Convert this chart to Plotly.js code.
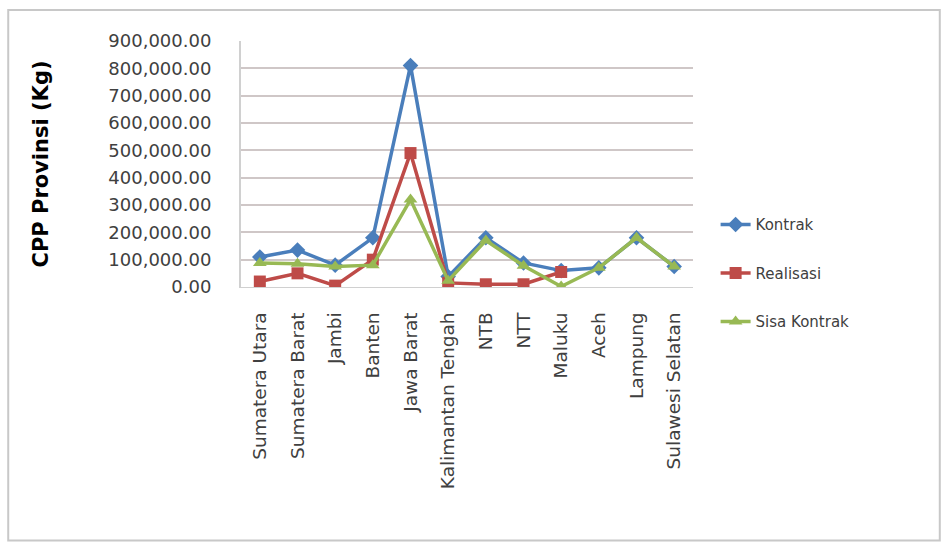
<!DOCTYPE html>
<html>
<head>
<meta charset="utf-8">
<script src="https://cdn.plot.ly/plotly-3.0.1.min.js"></script>
<style>
html,body{margin:0;padding:0;background:#fff;}
#chart{width:947px;height:545px;}
</style>
</head>
<body>
<div id="chart"></div>
<script>
var provinces = ["Sumatera Utara","Sumatera Barat","Jambi","Banten","Jawa Barat","Kalimantan Tengah","NTB","NTT","Maluku","Aceh","Lampung","Sulawesi Selatan"];
var kontrak   = [110000, 135000, 80000, 180000, 810000, 38000, 180000, 88000, 60000, 70000, 180000, 75000];
var realisasi = [20000, 50000, 5000, 100000, 490000, 15000, 10000, 10000, 55000, null, null, null];
var sisaKontrak = [88000, 85000, 75000, 80000, 320000, 23000, 170000, 78000, 2000, 70000, 180000, 75000];
var yTicks = [0,100000,200000,300000,400000,500000,600000,700000,800000,900000];

var font = "DejaVu Sans, Arial, sans-serif";
var traces = [
  {name:"Kontrak", x:provinces, y:kontrak, type:"scatter", mode:"lines+markers",
   line:{color:"#4a7ebb", width:3.5}, marker:{symbol:"diamond", size:12, color:"#4a7ebb"}, legendgroup:"a"},
  {name:"Realisasi", x:provinces, y:realisasi, type:"scatter", mode:"lines+markers",
   line:{color:"#be4b48", width:3.5}, marker:{symbol:"square", size:12, color:"#be4b48"}, legendgroup:"b", connectgaps:false},
  {name:"Sisa Kontrak", x:provinces, y:sisaKontrak, type:"scatter", mode:"lines+markers",
   line:{color:"#98b954", width:3.5}, marker:{symbol:"triangle-up", size:12, color:"#98b954"}, legendgroup:"c"}
];

var layout = {
  width:947, height:545,
  margin:{l:241, r:254, t:41, b:258},
  paper_bgcolor:"#fff", plot_bgcolor:"#fff",
  font:{family:font, color:"#404040"},
  showlegend:true,
  legend:{x:1.05, y:0.32, xanchor:"left", yanchor:"top", font:{size:15, color:"#404040", family:font},
          traceorder:"grouped", tracegroupgap:26, bgcolor:"rgba(0,0,0,0)"},
  xaxis:{type:"category", showgrid:false, zeroline:false, showline:true, linecolor:"#d0d0d0", linewidth:1,
         tickangle:-90, tickfont:{size:18.5, color:"#404040", family:font}, ticks:"", ticklabelstandoff:17,
         range:[-0.5, provinces.length-0.5]},
  yaxis:{range:[0,900000], tickvals:yTicks, tickformat:",.2f", showgrid:true, gridcolor:"#cfc7c7", gridwidth:2,
         zeroline:false, showline:true, linecolor:"#d0d0d0", linewidth:2, ticks:"", ticklabelstandoff:24,
         tickfont:{size:18, color:"#404040", family:font},
         title:{text:"CPP Provinsi (Kg)", font:{size:21, color:"#000", family:font, weight:"bold"}, standoff:54}},
  shapes:[{type:"rect", xref:"paper", yref:"paper", x0:-0.515, x1:1.546, y0:-1.03, y1:1.126,
           line:{color:"#c8c8c8", width:2}, fillcolor:"rgba(0,0,0,0)", layer:"below"}]
};

Plotly.newPlot("chart", traces, layout, {displayModeBar:false, staticPlot:true});
</script>
</body>
</html>
